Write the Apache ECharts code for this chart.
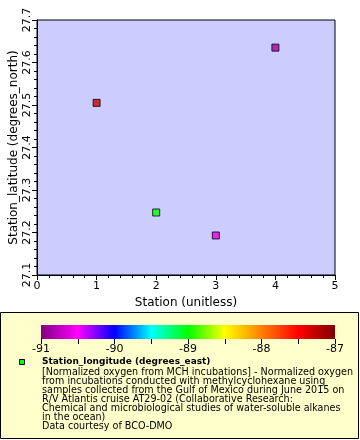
<!DOCTYPE html>
<html><head><meta charset="utf-8">
<script src="https://cdn.jsdelivr.net/npm/echarts@6/dist/echarts.min.js"></script>
<style>html,body{margin:0;padding:0;background:#fff}#c{width:360px;height:440px}</style>
</head><body><div id="c"></div>
<script>
var stations = [1, 2, 3, 4];
var latitudes = [27.505, 27.247, 27.193, 27.635];
var longitudes = [-87.3, -89.0, -90.6, -90.85];
var colorStops = [-91, -90.5, -90, -89.5, -89, -88.5, -88, -87.5, -87];
var paletteColors = ['#800080','#ff00ff','#0000ff','#00ffff','#00ff00','#ffff00','#ff8000','#ff0000','#800000'];
var colorbarTicks = [-91, -90, -89, -88, -87];
var legendTitle = 'Station_longitude (degrees_east)';
var legendLines = [
 '[Normalized oxygen from MCH incubations] - Normalized oxygen',
 'from incubations conducted with methylcyclohexane using',
 'samples collected from the Gulf of Mexico during June 2015 on',
 'R/V Atlantis cruise AT29-02 (Collaborative Research:',
 'Chemical and microbiological studies of water-soluble alkanes',
 'in the ocean)',
 'Data courtesy of BCO-DMO'
];

var FONT = 'DejaVu Sans';
var chart = echarts.init(document.getElementById('c'), null, {renderer: 'canvas'});
var pts = stations.map(function (s, i) { return [s, latitudes[i], longitudes[i]]; });
var gradStops = colorStops.map(function (v, i) {
  return {offset: (v - colorStops[0]) / (colorStops[colorStops.length - 1] - colorStops[0]), color: paletteColors[i]};
});

var option = {
  backgroundColor: '#ffffff',
  animation: false,
  textStyle: {fontFamily: FONT},
  grid: [
    {left: 37, top: 20, width: 298, height: 255, show: true, backgroundColor: '#ccccff', borderColor: '#000', borderWidth: 1, containLabel: false, outerBoundsMode: 'none'},
    {left: 41, top: 325, width: 294, height: 14, show: false, containLabel: false, outerBoundsMode: 'none'}
  ],
  xAxis: [
    {gridIndex: 0, type: 'value', min: 0, max: 5, interval: 1,
     name: 'Station (unitless)', nameLocation: 'middle', nameGap: 22, nameMoveOverlap: false,
     nameTextStyle: {fontSize: 12, color: '#000', fontFamily: FONT},
     axisLine: {lineStyle: {color: '#000'}},
     axisTick: {length: 5, inside: false, lineStyle: {color: '#000'}},
     minorTick: {show: true, splitNumber: 5, length: 3, lineStyle: {color: '#000'}},
     splitLine: {show: false},
     axisLabel: {fontSize: 11, color: '#000', margin: 6, fontFamily: FONT}},
    {gridIndex: 1, type: 'value', min: -91, max: -87, interval: 1,
     axisLine: {show: false},
     axisTick: {length: 5, lineStyle: {color: '#000'}},
     minorTick: {show: true, splitNumber: 2, length: 5, lineStyle: {color: '#000'}},
     splitLine: {show: false},
     axisLabel: {fontSize: 11, color: '#000', margin: 5, fontFamily: FONT,
       formatter: function (v) { return colorbarTicks.indexOf(v) >= 0 ? String(v) : ''; }}}
  ],
  yAxis: [
    {gridIndex: 0, type: 'value', min: 27.1, max: 27.7, interval: 0.1,
     name: 'Station_latitude (degrees_north)', nameLocation: 'middle', nameGap: 17, nameMoveOverlap: false,
     nameTextStyle: {fontSize: 12, color: '#000', fontFamily: FONT},
     axisLine: {lineStyle: {color: '#000'}},
     axisTick: {length: 5, lineStyle: {color: '#000'}},
     minorTick: {show: true, splitNumber: 5, length: 3, lineStyle: {color: '#000'}},
     splitLine: {show: false},
     axisLabel: {fontSize: 11, color: '#000', rotate: 90, margin: 4, fontFamily: FONT,
       formatter: function (v) { return v.toFixed(1); }}},
    {gridIndex: 1, type: 'value', min: 0, max: 1, show: false}
  ],
  visualMap: {
    show: false, type: 'continuous', seriesIndex: 0, dimension: 2,
    min: -91, max: -87, inRange: {color: paletteColors}
  },
  series: [
    {type: 'scatter', xAxisIndex: 0, yAxisIndex: 0, data: pts, symbol: 'rect', symbolSize: 7,
     itemStyle: {borderColor: '#000', borderWidth: 1}},
    {type: 'custom', xAxisIndex: 1, yAxisIndex: 1, data: [[-91, 0, -87, 1]],
     renderItem: function (params, api) {
       var p0 = api.coord([api.value(0), api.value(3)]);
       var p1 = api.coord([api.value(2), api.value(1)]);
       return {type: 'rect', shape: {x: p0[0], y: p0[1], width: p1[0] - p0[0], height: p1[1] - p0[1]},
         style: {fill: new echarts.graphic.LinearGradient(0, 0, 1, 0, gradStops)}};
     }}
  ],
  graphic: [
    {type: 'rect', z: -10, shape: {x: 0.5, y: 312.5, width: 358, height: 126}, style: {fill: '#ffffcc', stroke: '#000', lineWidth: 1}},
    {type: 'rect', z: 5, shape: {x: 19.5, y: 359.5, width: 5, height: 5}, style: {fill: '#00ff00', stroke: '#000', lineWidth: 1}},
    {type: 'text', z: 5, x: 42, y: 357, style: {text: legendTitle, font: 'bold 9px "DejaVu Sans"', fill: '#000'}},
    {type: 'text', z: 5, x: 42, y: 368, style: {text: legendLines.join('\n'), font: '9.6px "DejaVu Sans"', lineHeight: 9, fill: '#000'}}
  ]
};
chart.setOption(option);
</script></body></html>
